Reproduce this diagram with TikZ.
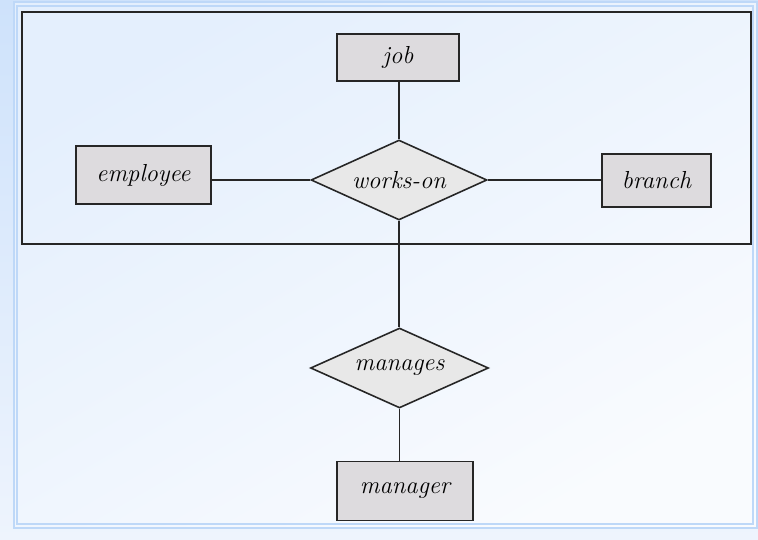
\documentclass[tikz,border=0pt]{standalone}
\usepackage{xcolor}
\definecolor{slideblue}{RGB}{206,226,251}
\definecolor{slidepale}{RGB}{238,244,253}
\definecolor{slidetop}{RGB}{228,239,253}
\definecolor{slidebot}{RGB}{249,251,254}
\definecolor{slideline}{RGB}{190,216,248}
\definecolor{entgray}{RGB}{221,219,222}
\definecolor{relgray}{RGB}{232,232,232}
\usepackage{tikz}
\usetikzlibrary{shapes.geometric,positioning}
\tikzset{
  er_ent/.style={rectangle,
    draw=black!85,fill=entgray,line width=0.9pt,
    font=\fontsize{14}{16}\selectfont\itshape,
    inner sep=2pt},
  er_rel/.style={diamond,aspect=2.2,
    draw=black!85,fill=relgray,line width=0.9pt,
    font=\fontsize{14}{16}\selectfont\itshape,
    inner sep=1pt},
  er_link/.style={line width=0.9pt,draw=black!85},
}

\begin{document}
\begin{tikzpicture}[x=0.02cm,y=-0.02cm]
  \useasboundingbox (0,0) rectangle (758,540);
  % slide background
  \shade[top color=slideblue,bottom color=slidepale] (0,0) rectangle (758,540);
  \shade[top color=slidetop,bottom color=slidebot,shading angle=30]
    (14,3) rectangle (757,528);
  \draw[slideline,line width=1.2pt] (14,2) rectangle (757,528);
  \draw[slideline,line width=1.2pt] (17,6) rectangle (753,524);
  % aggregation box
  \draw[line width=1pt,draw=black!85] (22,12) rectangle (751,244);
  % entities and relationships
  \node (job) [er_ent,minimum width=2.44cm,minimum height=0.94cm]
    at (398,57.5) {job};
  \node (wo) [er_rel,minimum width=3.52cm,minimum height=1.6cm]
    at (399,180) {works-on};
  \node (emp) [er_ent,minimum width=2.7cm,minimum height=1.16cm]
    at (143.5,175) {employee};
  \node (br) [er_ent,minimum width=2.18cm,minimum height=1.06cm]
    at (656.5,180.5) {branch};
  \node (mg) [er_rel,minimum width=3.56cm,minimum height=1.6cm]
    at (399.5,368) {manages};
  \node (mgr) [er_ent,minimum width=2.72cm,minimum height=1.18cm]
    at (405,491) {manager};

  \draw[er_link] (wo.north |- job.south) -- (wo.north);
  \draw[er_link] (wo.west) -- (wo.west -| emp.east);
  \draw[er_link] (wo.east) -- (wo.east -| br.west);
  \draw[er_link] (wo.south) -- (wo.south |- mg.north);
  \draw[er_link,line width=0.75pt] (mg.south) -- (mg.south |- mgr.north);
\end{tikzpicture}
\end{document}
